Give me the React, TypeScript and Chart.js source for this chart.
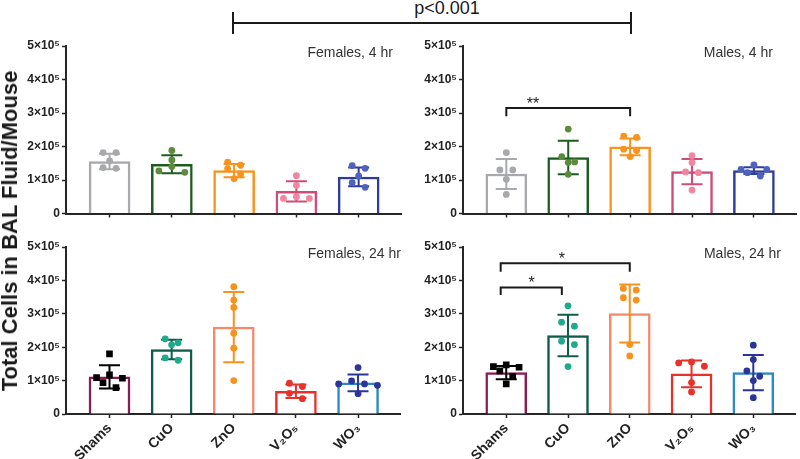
import React, { useEffect, useRef } from "react";
import { Chart, registerables } from "chart.js";

Chart.register(...registerables);

// ---------------- DATA ----------------
const categories = ["Shams", "CuO", "ZnO", "V₂O₅", "WO₃"];
const yTickValues = [0, 100000, 200000, 300000, 400000, 500000];

// Females, 4 hr
const females4hMeans = [155000, 147000, 128000, 66000, 109000];
const females4hSD = [23000, 27000, 20000, 30000, 28000];
const females4hPoints = [
  [182000, 182000, 157000, 137000, 135000],
  [188000, 160000, 140000, 123000, 127000],
  [153000, 144000, 134000, 104000, 118000],
  [113000, 84000, 45000, 50000, 45000],
  [135000, 143000, 112000, 78000, 92000],
];

// Males, 4 hr
const males4hMeans = [118000, 167000, 199000, 125000, 128000];
const males4hSD = [45000, 50000, 25000, 38000, 10000];
const males4hPoints = [
  [182000, 130000, 130000, 102000, 57000],
  [252000, 170000, 152000, 154000, 117000],
  [227000, 231000, 192000, 188000, 170000],
  [173000, 152000, 122000, 124000, 70000],
  [145000, 112000, 132000, 122000, 132000],
];

// Females, 24 hr
const females24hMeans = [111000, 193000, 260000, 68000, 93000];
const females24hSD = [35000, 29000, 105000, 20000, 25000];
const females24hPoints = [
  [180000, 109000, 107000, 117000, 94000, 79000],
  [225000, 207000, 213000, 161000, 168000],
  [381000, 341000, 319000, 242000, 197000, 100000],
  [82000, 92000, 62000, 46000],
  [139000, 86000, 90000, 90000, 99000, 61000],
];

// Males, 24 hr
const males24hMeans = [124000, 235000, 301000, 120000, 124000];
const males24hSD = [20000, 62000, 87000, 40000, 53000];
const males24hPoints = [
  [140000, 129000, 142000, 147000, 112000, 90000],
  [324000, 263000, 275000, 208000, 218000, 142000],
  [371000, 376000, 341000, 348000, 208000, 174000],
  [143000, 156000, 153000, 94000, 66000],
  [206000, 163000, 129000, 113000, 100000, 49000],
];

// significance brackets (category positions, heights in cells)
const males4hBrackets = [{ from: 0, to: 2, top: 315000, leg: 290000, labelAt: 0.43, label: "**" }];
const males24hBrackets = [
  { from: -0.09, to: 0.9, top: 379000, leg: 356000, labelAt: 0.41, label: "*" },
  { from: -0.09, to: 2, top: 451000, leg: 426000, labelAt: 0.9, label: "*" },
];

// ---------------- STYLES ----------------
const topBorderColors = ["#a7a9ac", "#1d5c1f", "#f7931e", "#cf4c79", "#2e3c97"];
const topPointColors = ["#a7a9ac", "#5c8b3d", "#f7931e", "#f3869f", "#4e62bf"];
const topErrorColors = ["#a7a9ac", "#1d5c1f", "#f7931e", "#cf4c79", "#2e3c97"];
const bottomBorderColors = ["#8a1d50", "#0f5c4b", "#f5896b", "#e8312b", "#2a8ac3"];
const bottomPointColors = ["#000000", "#1faa8b", "#f7921e", "#e8312b", "#2b3597"];
const bottomErrorColors = ["#000000", "#0f5c4b", "#f7921e", "#e8312b", "#2b3597"];
const bottomPointStyles = ["rect", "circle", "circle", "circle", "circle"];
const topPointStyles = ["circle", "circle", "circle", "circle", "circle"];

const AXIS = "#262626";
const FONT = '"Liberation Sans", Arial, sans-serif';
const PX_PER_CAT = 62.5;
const PX_PER_VAL = 33.4 / 100000;

// simple Prism-like swarm: rows of near-equal values spread symmetrically
function swarmOffsets(values: number[], slotPx = 13, rowPx = 6) {
  const idx = values.map((_, i) => i).sort((a, b) => values[b] - values[a]);
  const rows: number[][] = [];
  for (const i of idx) {
    const row = rows[rows.length - 1];
    if (row && (values[row[0]] - values[i]) * PX_PER_VAL < rowPx) row.push(i);
    else rows.push([i]);
  }
  const offsets = new Array(values.length).fill(0);
  for (const row of rows) {
    const n = row.length;
    const slots = Array.from({ length: n }, (_, k) => k - (n - 1) / 2).sort(
      (a, b) => Math.abs(a) - Math.abs(b) || a - b
    );
    row.forEach((pi, j) => {
      offsets[pi] = (slots[j] * slotPx) / PX_PER_CAT;
    });
  }
  return offsets;
}

const errorBarPlugin = {
  id: "errorBars",
  afterDatasetDraw(chart: any, args: any, opts: any) {
    if (args.index !== 0 || !opts || !opts.means) return;
    const { ctx } = chart;
    const x = chart.scales.x;
    const y = chart.scales.y;
    ctx.save();
    ctx.lineWidth = 2;
    opts.means.forEach((m: number, i: number) => {
      const sd = opts.sd[i];
      const px = x.getPixelForValue(i);
      const yt = y.getPixelForValue(m + sd);
      const yb = y.getPixelForValue(Math.max(0, m - sd));
      const cap = 10.5;
      ctx.strokeStyle = opts.colors[i];
      ctx.beginPath();
      ctx.moveTo(px, yt);
      ctx.lineTo(px, yb);
      ctx.moveTo(px - cap, yt);
      ctx.lineTo(px + cap, yt);
      ctx.moveTo(px - cap, yb);
      ctx.lineTo(px + cap, yb);
      ctx.stroke();
    });
    ctx.restore();
  },
};

const bracketPlugin = {
  id: "brackets",
  afterDatasetsDraw(chart: any, _args: any, opts: any) {
    if (!opts || !opts.items) return;
    const { ctx } = chart;
    const x = chart.scales.x;
    const y = chart.scales.y;
    ctx.save();
    ctx.strokeStyle = "#1a1a1a";
    ctx.fillStyle = "#1a1a1a";
    ctx.lineWidth = 2;
    ctx.font = `16px ${FONT}`;
    ctx.textAlign = "center";
    ctx.textBaseline = "alphabetic";
    for (const b of opts.items) {
      const x1 = x.getPixelForValue(b.from);
      const x2 = x.getPixelForValue(b.to);
      const yt = y.getPixelForValue(b.top);
      const yb = y.getPixelForValue(b.leg);
      ctx.beginPath();
      ctx.moveTo(x1, yb);
      ctx.lineTo(x1, yt);
      ctx.lineTo(x2, yt);
      ctx.lineTo(x2, yb);
      ctx.stroke();
      ctx.fillText(b.label, x.getPixelForValue(b.labelAt), yt + 1);
    }
    ctx.restore();
  },
};

type PanelCfg = {
  key: string;
  left: number;
  top: number;
  w: number;
  h: number;
  chartTop: number;
  chartBottom: number;
  chartRight: number;
  yAxisRight: number;
  means: number[];
  sd: number[];
  points: number[][];
  borderColors: string[];
  pointColors: string[];
  errorColors: string[];
  pointStyles: string[];
  showLabels: boolean;
  brackets: any[];
};

const panels: PanelCfg[] = [
  {
    key: "f4", left: 0, top: 36, w: 405, h: 190, chartTop: 46, chartBottom: 213.5, chartRight: 402, yAxisRight: 66,
    means: females4hMeans, sd: females4hSD, points: females4hPoints,
    borderColors: topBorderColors, pointColors: topPointColors, errorColors: topErrorColors, pointStyles: topPointStyles,
    showLabels: false, brackets: [],
  },
  {
    key: "m4", left: 405, top: 36, w: 395, h: 190, chartTop: 46, chartBottom: 213.5, chartRight: 800, yAxisRight: 463,
    means: males4hMeans, sd: males4hSD, points: males4hPoints,
    borderColors: topBorderColors, pointColors: topPointColors, errorColors: topErrorColors, pointStyles: topPointStyles,
    showLabels: false, brackets: males4hBrackets,
  },
  {
    key: "f24", left: 0, top: 232, w: 405, h: 227, chartTop: 247, chartBottom: 414, chartRight: 402, yAxisRight: 66,
    means: females24hMeans, sd: females24hSD, points: females24hPoints,
    borderColors: bottomBorderColors, pointColors: bottomPointColors, errorColors: bottomErrorColors, pointStyles: bottomPointStyles,
    showLabels: true, brackets: [],
  },
  {
    key: "m24", left: 405, top: 232, w: 395, h: 227, chartTop: 247, chartBottom: 414, chartRight: 800, yAxisRight: 463,
    means: males24hMeans, sd: males24hSD, points: males24hPoints,
    borderColors: bottomBorderColors, pointColors: bottomPointColors, errorColors: bottomErrorColors, pointStyles: bottomPointStyles,
    showLabels: true, brackets: males24hBrackets,
  },
];

function Panel({ cfg }: { cfg: PanelCfg }) {
  const ref = useRef<HTMLCanvasElement>(null);
  useEffect(() => {
    if (!ref.current) return;
    const barData = cfg.means.map((m, i) => ({ x: i, y: m }));
    const scatterData: { x: number; y: number }[] = [];
    const pColors: string[] = [];
    const pStyles: string[] = [];
    const pRadius: number[] = [];
    cfg.points.forEach((vals, i) => {
      const offs = swarmOffsets(vals);
      vals.forEach((v, j) => {
        scatterData.push({ x: i + offs[j], y: v });
        pColors.push(cfg.pointColors[i]);
        pStyles.push(cfg.pointStyles[i]);
        pRadius.push(cfg.pointStyles[i] === "rect" ? 4.7 : 3.4);
      });
    });
    const xAxisHeight = cfg.h - (cfg.chartBottom - cfg.top);
    const yAxisWidth = cfg.yAxisRight - cfg.left;
    const chart = new Chart(ref.current, {
      type: "bar",
      data: {
        datasets: [
          {
            type: "bar",
            data: barData as any,
            backgroundColor: "#ffffff",
            borderColor: cfg.borderColors,
            borderWidth: 2.5,
            barThickness: 41,
            order: 2,
          } as any,
          {
            type: "scatter",
            data: scatterData as any,
            backgroundColor: pColors,
            borderWidth: 0,
            pointStyle: pStyles as any,
            pointRadius: pRadius,
            order: 1,
          } as any,
        ],
      },
      options: {
        responsive: false,
        animation: false,
        devicePixelRatio: 1,
        layout: {
          padding: { top: cfg.chartTop - cfg.top, right: cfg.left + cfg.w - cfg.chartRight, bottom: 0, left: 0 },
        },
        plugins: {
          legend: { display: false },
          tooltip: { enabled: false },
          errorBars: { means: cfg.means, sd: cfg.sd, colors: cfg.errorColors },
          brackets: { items: cfg.brackets },
        } as any,
        scales: {
          x: {
            type: "linear",
            min: -0.7,
            max: 4.68,
            offset: false,
            afterFit: (s: any) => {
              s.height = xAxisHeight;
            },
            afterBuildTicks: (s: any) => {
              s.ticks = categories.map((_, i) => ({ value: i }));
            },
            border: { display: true, color: AXIS, width: 2 },
            grid: {
              offset: false,
              drawOnChartArea: false,
              drawTicks: true,
              tickLength: 4,
              tickColor: AXIS,
              tickWidth: 1.5,
              color: AXIS,
            },
            ticks: {
              display: cfg.showLabels,
              autoSkip: false,
              minRotation: 45,
              maxRotation: 45,
              padding: 2,
              color: "#222",
              font: { family: FONT, size: 14, weight: "bold" },
              callback: (_v: any, index: number) => categories[index] ?? "",
            },
          },
          y: {
            type: "linear",
            min: 0,
            max: 500000,
            afterFit: (s: any) => {
              s.width = yAxisWidth;
            },
            afterBuildTicks: (s: any) => {
              s.ticks = yTickValues.map((v) => ({ value: v }));
            },
            border: { display: true, color: AXIS, width: 2 },
            grid: {
              drawOnChartArea: false,
              drawTicks: true,
              tickLength: 4,
              tickColor: AXIS,
              tickWidth: 1.5,
              color: AXIS,
            },
            ticks: {
              padding: 2,
              color: "#222",
              font: { family: FONT, size: 12, weight: "bold" },
              callback: (v: any) => (v === 0 ? "0" : `${v / 100000}×10⁵`),
            },
          },
        },
      },
      plugins: [errorBarPlugin, bracketPlugin],
    } as any);
    return () => chart.destroy();
  }, [cfg]);
  return (
    <canvas
      ref={ref}
      width={cfg.w}
      height={cfg.h}
      style={{ position: "absolute", left: cfg.left, top: cfg.top, width: cfg.w, height: cfg.h }}
    />
  );
}

const titleStyle: React.CSSProperties = {
  position: "absolute",
  fontSize: 14,
  lineHeight: "16px",
  color: "#333",
  whiteSpace: "nowrap",
  fontFamily: FONT,
};

export default function App() {
  return (
    <div
      style={{
        position: "absolute",
        left: 0,
        top: 0,
        width: 800,
        height: 459,
        background: "#fff",
        overflow: "hidden",
        fontFamily: FONT,
      }}
    >
      {panels.map((p) => (
        <Panel key={p.key} cfg={p} />
      ))}
      <div style={{ ...titleStyle, right: 407, top: 44 }}>Females, 4 hr</div>
      <div style={{ ...titleStyle, right: 27, top: 44 }}>Males, 4 hr</div>
      <div style={{ ...titleStyle, right: 399, top: 245 }}>Females, 24 hr</div>
      <div style={{ ...titleStyle, right: 19, top: 245 }}>Males, 24 hr</div>
      <div
        style={{
          position: "absolute",
          left: 9.5,
          top: 231,
          transform: "translate(-50%, -50%) rotate(-90deg)",
          whiteSpace: "nowrap",
          fontWeight: "bold",
          fontSize: 22,
          lineHeight: "24px",
          color: "#1a1a1a",
        }}
      >
        Total Cells in BAL Fluid/Mouse
      </div>
      <div
        style={{
          position: "absolute",
          left: 447,
          top: -2,
          transform: "translateX(-50%)",
          fontSize: 18,
          lineHeight: "20px",
          color: "#1a1a1a",
          whiteSpace: "nowrap",
        }}
      >
        p&lt;0.001
      </div>
      <div style={{ position: "absolute", left: 233, top: 22, width: 399, height: 2, background: "#1a1a1a" }} />
      <div style={{ position: "absolute", left: 232, top: 12, width: 2, height: 22, background: "#1a1a1a" }} />
      <div style={{ position: "absolute", left: 630, top: 12, width: 2, height: 22, background: "#1a1a1a" }} />
    </div>
  );
}
